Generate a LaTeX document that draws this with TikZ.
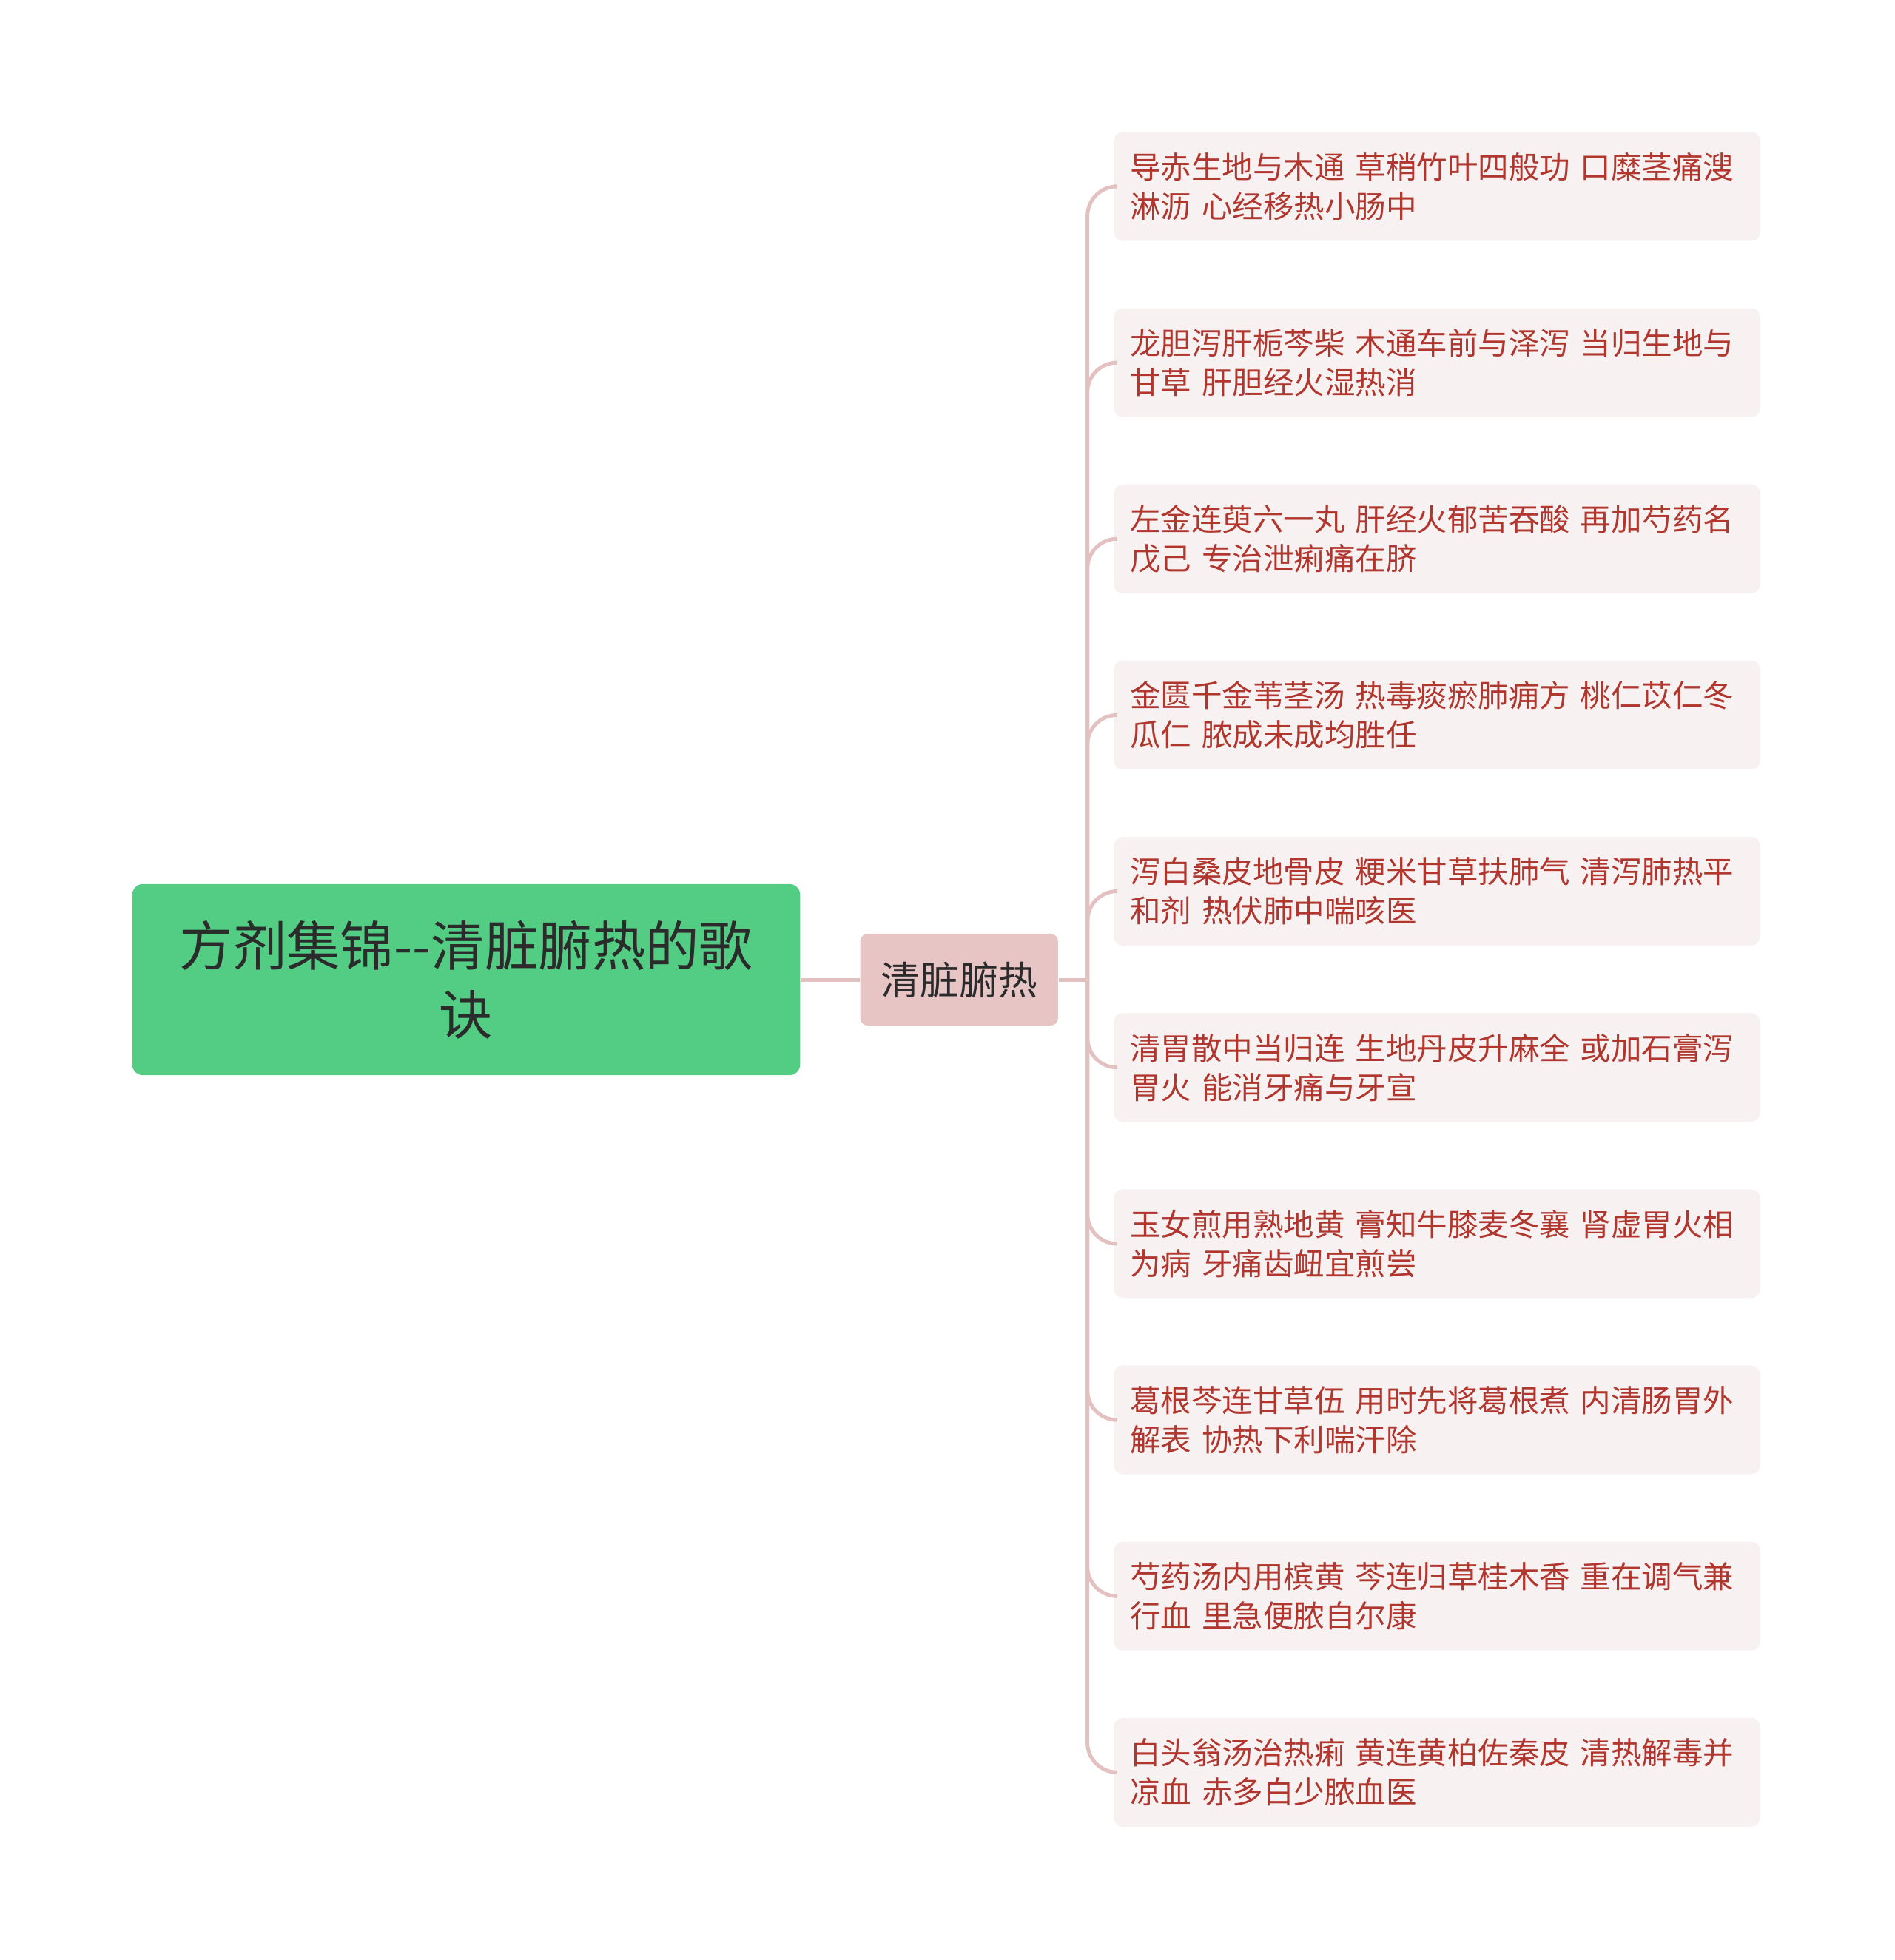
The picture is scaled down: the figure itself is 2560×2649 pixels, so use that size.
\documentclass[tikz,border=0pt]{standalone}
\usepackage{fontspec}
\setmainfont{Noto Sans CJK SC}
\usetikzlibrary{positioning}
\definecolor{rootfill}{HTML}{53CD84}
\definecolor{midfill}{HTML}{E8C5C5}
\definecolor{leaffill}{HTML}{F8F1F1}
\definecolor{leaftext}{HTML}{B0362E}
\definecolor{linkcol}{HTML}{E4C1C1}
\definecolor{darktext}{HTML}{2B2B2B}
\tikzset{
  rootbox/.style={rectangle, rounded corners=0.14cm, fill=rootfill, text=darktext, align=center,
    minimum width=9.02cm, minimum height=2.58cm, font=\fontsize{20.6pt}{26.5pt}\selectfont},
  midbox/.style={rectangle, rounded corners=0.1cm, fill=midfill, text=darktext,
    minimum width=2.67cm, minimum height=1.24cm, font=\fontsize{15pt}{18pt}\selectfont},
  leaf/.style={rectangle, rounded corners=0.12cm, fill=leaffill, text=leaftext, align=left,
    inner xsep=0.22cm, text width=8.29cm, minimum height=1.47cm, font=\fontsize{11.8pt}{15pt}\selectfont},
  link/.style={draw=linkcol, line width=0.05cm, rounded corners=0.4cm},
}

\begin{document}
\begin{tikzpicture}[x=0.01cm, y=-0.01cm, node distance=8.96mm]
  \useasboundingbox (0,0) rectangle (2560,2649);
  \node[rootbox] (root) at (630,1324) {方剂集锦-{}-清脏腑热的歌\\诀};
  \node[midbox, right=8mm of root] (mid) {清脏腑热};
  \coordinate[right=3.9mm of mid] (trunk);
  \node[leaf] (l1) at (1942,252) {导赤生地与木通 草稍竹叶四般功 口糜茎痛溲\\淋沥 心经移热小肠中};
  \node[leaf, below=of l1] (l2) {龙胆泻肝栀芩柴 木通车前与泽泻 当归生地与\\甘草 肝胆经火湿热消};
  \node[leaf, below=of l2] (l3) {左金连萸六一丸 肝经火郁苦吞酸 再加芍药名\\戊己 专治泄痢痛在脐};
  \node[leaf, below=of l3] (l4) {金匮千金苇茎汤 热毒痰瘀肺痈方 桃仁苡仁冬\\瓜仁 脓成未成均胜任};
  \node[leaf, below=of l4] (l5) {泻白桑皮地骨皮 粳米甘草扶肺气 清泻肺热平\\和剂 热伏肺中喘咳医};
  \node[leaf, below=of l5] (l6) {清胃散中当归连 生地丹皮升麻全 或加石膏泻\\胃火 能消牙痛与牙宣};
  \node[leaf, below=of l6] (l7) {玉女煎用熟地黄 膏知牛膝麦冬襄 肾虚胃火相\\为病 牙痛齿衄宜煎尝};
  \node[leaf, below=of l7] (l8) {葛根芩连甘草伍 用时先将葛根煮 内清肠胃外\\解表 协热下利喘汗除};
  \node[leaf, below=of l8] (l9) {芍药汤内用槟黄 芩连归草桂木香 重在调气兼\\行血 里急便脓自尔康};
  \node[leaf, below=of l9] (l10) {白头翁汤治热痢 黄连黄柏佐秦皮 清热解毒并\\凉血 赤多白少脓血医};
  \draw[link] (root) -- (mid);
  \draw[link] (mid) -- (trunk);
  \draw[link] (trunk) |- (l1);
  \draw[link] (trunk) |- (l2);
  \draw[link] (trunk) |- (l3);
  \draw[link] (trunk) |- (l4);
  \draw[link] (trunk) |- (l5);
  \draw[link] (trunk) |- (l6);
  \draw[link] (trunk) |- (l7);
  \draw[link] (trunk) |- (l8);
  \draw[link] (trunk) |- (l9);
  \draw[link] (trunk) |- (l10);
\end{tikzpicture}
\end{document}
